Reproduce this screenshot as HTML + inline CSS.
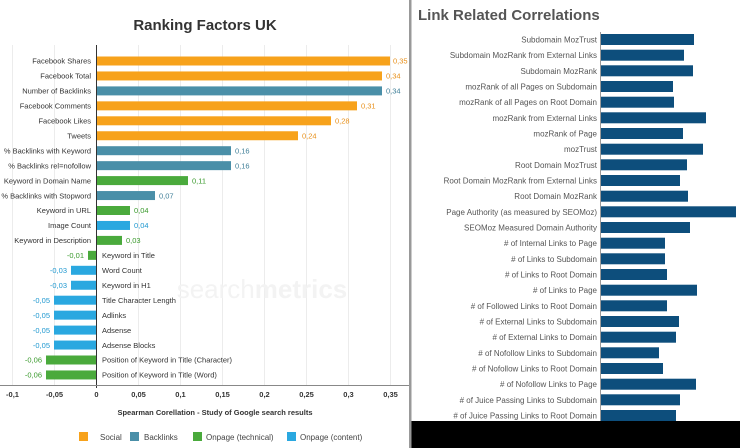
<!DOCTYPE html>
<html><head><meta charset="utf-8"><style>
html,body{margin:0;padding:0;background:#fff;}
svg{display:block;font-family:"Liberation Sans",sans-serif;}
</style></head><body>
<svg width="740" height="448" viewBox="0 0 740 448">
<rect width="740" height="448" fill="#fff"/>
<g stroke="#ececec" stroke-width="1">
<line x1="12.5" y1="45" x2="12.5" y2="385"/><line x1="54.5" y1="45" x2="54.5" y2="385"/>
<line x1="138.5" y1="45" x2="138.5" y2="385"/><line x1="180.5" y1="45" x2="180.5" y2="385"/>
<line x1="222.5" y1="45" x2="222.5" y2="385"/><line x1="264.5" y1="45" x2="264.5" y2="385"/>
<line x1="306.5" y1="45" x2="306.5" y2="385"/><line x1="348.5" y1="45" x2="348.5" y2="385"/>
<line x1="390.5" y1="45" x2="390.5" y2="385"/>
</g>
<text x="262" y="298" font-size="26" fill="#f3f3f3" text-anchor="middle">search<tspan font-weight="bold">metrics</tspan></text>
<text x="205" y="30" font-size="15" font-weight="bold" fill="#333" text-anchor="middle">Ranking Factors UK</text>
<g font-size="7.5">
<g fill="#f7a21b"><rect x="96" y="56.5" width="294" height="9"/><rect x="96" y="71.45" width="286" height="9"/><rect x="96" y="101.35" width="261" height="9"/><rect x="96" y="116.3" width="235" height="9"/><rect x="96" y="131.25" width="202" height="9"/></g>
<g fill="#4a8fa8"><rect x="96" y="86.4" width="286" height="9"/><rect x="96" y="146.2" width="135" height="9"/><rect x="96" y="161.15" width="135" height="9"/><rect x="96" y="191.05" width="59" height="9"/></g>
<g fill="#4aaa3c"><rect x="96" y="176.1" width="92" height="9"/><rect x="96" y="206" width="34" height="9"/><rect x="96" y="235.9" width="26" height="9"/><rect x="88" y="250.85" width="8" height="9"/><rect x="46" y="355.5" width="50" height="9"/><rect x="46" y="370.45" width="50" height="9"/></g>
<g fill="#2aa8e0"><rect x="96" y="220.95" width="34" height="9"/><rect x="71" y="265.8" width="25" height="9"/><rect x="71" y="280.75" width="25" height="9"/><rect x="54" y="295.7" width="42" height="9"/><rect x="54" y="310.65" width="42" height="9"/><rect x="54" y="325.6" width="42" height="9"/><rect x="54" y="340.55" width="42" height="9"/></g>
<g fill="#333" text-anchor="end">
<text x="91" y="63.7">Facebook Shares</text><text x="91" y="78.65">Facebook Total</text><text x="91" y="93.6">Number of Backlinks</text><text x="91" y="108.55">Facebook Comments</text><text x="91" y="123.5">Facebook Likes</text><text x="91" y="138.45">Tweets</text><text x="91" y="153.4">% Backlinks with Keyword</text><text x="91" y="168.35">% Backlinks rel=nofollow</text><text x="91" y="183.3">Keyword in Domain Name</text><text x="91" y="198.25">% Backlinks with Stopword</text><text x="91" y="213.2">Keyword in URL</text><text x="91" y="228.15">Image Count</text><text x="91" y="243.1">Keyword in Description</text>
</g>
<g fill="#333">
<text x="102" y="258.05">Keyword in Title</text><text x="102" y="273">Word Count</text><text x="102" y="287.95">Keyword in H1</text><text x="102" y="302.9">Title Character Length</text><text x="102" y="317.85">Adlinks</text><text x="102" y="332.8">Adsense</text><text x="102" y="347.75">Adsense Blocks</text><text x="102" y="362.7">Position of Keyword in Title (Character)</text><text x="102" y="377.65">Position of Keyword in Title (Word)</text>
</g>
<g fill="#e8901a"><text x="393" y="63.7">0,35</text><text x="386" y="78.65">0,34</text><text x="361" y="108.55">0,31</text><text x="335" y="123.5">0,28</text><text x="302" y="138.45">0,24</text></g>
<g fill="#3f7f98"><text x="386" y="93.6">0,34</text><text x="235" y="153.4">0,16</text><text x="235" y="168.35">0,16</text><text x="159" y="198.25">0,07</text></g>
<g fill="#3a9a2c"><text x="192" y="183.3">0,11</text><text x="134" y="213.2">0,04</text><text x="126" y="243.1">0,03</text>
<text x="84" y="258.05" text-anchor="end">-0,01</text><text x="42" y="362.7" text-anchor="end">-0,06</text><text x="42" y="377.65" text-anchor="end">-0,06</text></g>
<g fill="#1f98d0"><text x="134" y="228.15">0,04</text>
<text x="67" y="273" text-anchor="end">-0,03</text><text x="67" y="287.95" text-anchor="end">-0,03</text><text x="50" y="302.9" text-anchor="end">-0,05</text><text x="50" y="317.85" text-anchor="end">-0,05</text><text x="50" y="332.8" text-anchor="end">-0,05</text><text x="50" y="347.75" text-anchor="end">-0,05</text></g>
</g>
<line x1="96.5" y1="45" x2="96.5" y2="388" stroke="#333" stroke-width="1"/>
<line x1="0" y1="385.5" x2="410" y2="385.5" stroke="#888" stroke-width="1"/>
<g font-size="7.5" font-weight="bold" fill="#333" text-anchor="middle">
<text x="12.5" y="397">-0,1</text><text x="54.5" y="397">-0,05</text><text x="96.5" y="397">0</text><text x="138.5" y="397">0,05</text><text x="180.5" y="397">0,1</text><text x="222.5" y="397">0,15</text><text x="264.5" y="397">0,2</text><text x="306.5" y="397">0,25</text><text x="348.5" y="397">0,3</text><text x="390.5" y="397">0,35</text>
<text x="215" y="415">Spearman Corellation - Study of Google search results</text>
</g>
<g font-size="8" fill="#444">
<rect x="79" y="432" width="9" height="9" fill="#f7a21b"/><text x="100" y="440">Social</text>
<rect x="130" y="432" width="9" height="9" fill="#4a8fa8"/><text x="144" y="440">Backlinks</text>
<rect x="193" y="432" width="9" height="9" fill="#4aaa3c"/><text x="206" y="440">Onpage (technical)</text>
<rect x="287" y="432" width="9" height="9" fill="#2aa8e0"/><text x="300" y="440">Onpage (content)</text>
</g>
<rect x="409" y="0" width="2.5" height="448" fill="#999"/>
<rect x="411.5" y="421" width="329" height="27" fill="#000"/>
<text x="418" y="20" font-size="15" font-weight="bold" fill="#555">Link Related Correlations</text>
<line x1="600.5" y1="32" x2="600.5" y2="421" stroke="#999"/>
<g fill="#0d4e7c">
<rect x="601" y="34" width="93" height="11"/><rect x="601" y="49.7" width="83" height="11"/><rect x="601" y="65.3" width="92" height="11"/><rect x="601" y="81" width="72" height="11"/><rect x="601" y="96.7" width="73" height="11"/><rect x="601" y="112.3" width="105" height="11"/><rect x="601" y="128" width="82" height="11"/><rect x="601" y="143.7" width="102" height="11"/><rect x="601" y="159.3" width="86" height="11"/><rect x="601" y="175" width="79" height="11"/><rect x="601" y="190.7" width="87" height="11"/><rect x="601" y="206.3" width="135" height="11"/><rect x="601" y="222" width="89" height="11"/><rect x="601" y="237.7" width="64" height="11"/><rect x="601" y="253.3" width="64" height="11"/><rect x="601" y="269" width="66" height="11"/><rect x="601" y="284.7" width="96" height="11"/><rect x="601" y="300.3" width="66" height="11"/><rect x="601" y="316" width="78" height="11"/><rect x="601" y="331.7" width="75" height="11"/><rect x="601" y="347.3" width="58" height="11"/><rect x="601" y="363" width="62" height="11"/><rect x="601" y="378.7" width="95" height="11"/><rect x="601" y="394.3" width="79" height="11"/><rect x="601" y="410" width="75" height="11"/>
</g>
<g font-size="8" fill="#555" text-anchor="end">
<text x="597" y="42.5">Subdomain MozTrust</text><text x="597" y="58.2">Subdomain MozRank from External Links</text><text x="597" y="73.8">Subdomain MozRank</text><text x="597" y="89.5">mozRank of all Pages on Subdomain</text><text x="597" y="105.2">mozRank of all Pages on Root Domain</text><text x="597" y="120.8">mozRank from External Links</text><text x="597" y="136.5">mozRank of Page</text><text x="597" y="152.2">mozTrust</text><text x="597" y="167.8">Root Domain MozTrust</text><text x="597" y="183.5">Root Domain MozRank from External Links</text><text x="597" y="199.2">Root Domain MozRank</text><text x="597" y="214.8">Page Authority (as measured by SEOMoz)</text><text x="597" y="230.5">SEOMoz Measured Domain Authority</text><text x="597" y="246.2"># of Internal Links to Page</text><text x="597" y="261.8"># of Links to Subdomain</text><text x="597" y="277.5"># of Links to Root Domain</text><text x="597" y="293.2"># of Links to Page</text><text x="597" y="308.8"># of Followed Links to Root Domain</text><text x="597" y="324.5"># of External Links to Subdomain</text><text x="597" y="340.2"># of External Links to Domain</text><text x="597" y="355.8"># of Nofollow Links to Subdomain</text><text x="597" y="371.5"># of Nofollow Links to Root Domain</text><text x="597" y="387.2"># of Nofollow Links to Page</text><text x="597" y="402.8"># of Juice Passing Links to Subdomain</text><text x="597" y="418.5"># of Juice Passing Links to Root Domain</text>
</g>
</svg>
</body></html>
